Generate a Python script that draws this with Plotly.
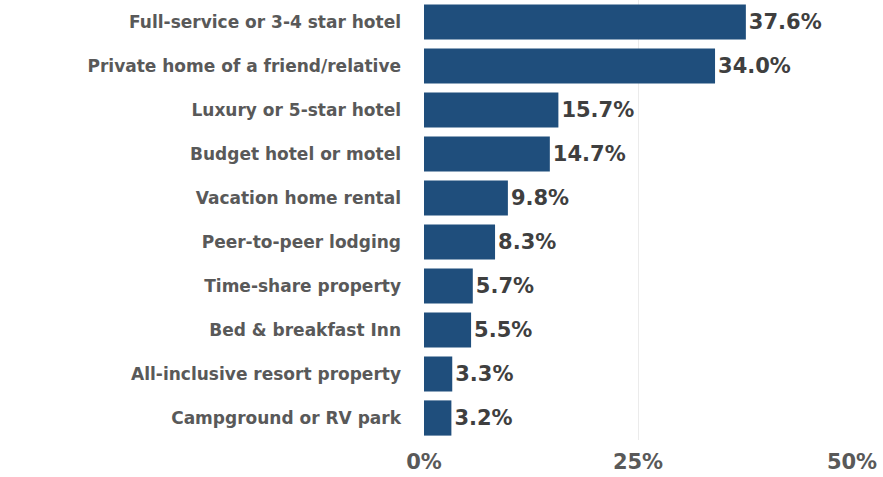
import plotly.graph_objects as go

categories = [
    "Full-service or 3-4 star hotel",
    "Private home of a friend/relative",
    "Luxury or 5-star hotel",
    "Budget hotel or motel",
    "Vacation home rental",
    "Peer-to-peer lodging",
    "Time-share property",
    "Bed & breakfast Inn",
    "All-inclusive resort property",
    "Campground or RV park",
]
shares = [37.6, 34.0, 15.7, 14.7, 9.8, 8.3, 5.7, 5.5, 3.3, 3.2]
x_ticks = [0, 25, 50]
x_tick_labels = ["0%", "25%", "50%"]

fig = go.Figure(
    go.Bar(
        x=shares,
        y=categories,
        orientation="h",
        marker=dict(color="#1f4e7c", line=dict(width=0)),
        width=0.8,
        text=[f"{v:.1f}%" for v in shares],
        textposition="outside",
        cliponaxis=False,
        textfont=dict(family="DejaVu Sans", size=21, color="#3f3f3f", weight="bold"),
    )
)

fig.update_layout(
    width=883,
    height=477,
    margin=dict(l=424, r=31, t=0, b=37),
    paper_bgcolor="white",
    plot_bgcolor="white",
    showlegend=False,
    font=dict(family="DejaVu Sans"),
)

fig.update_xaxes(
    range=[0, 50],
    tickvals=x_ticks,
    ticktext=x_tick_labels,
    showgrid=True,
    gridcolor="#ebebeb",
    gridwidth=1,
    zeroline=False,
    showline=False,
    tickfont=dict(family="DejaVu Sans", size=21, color="#595959", weight="bold"),
    ticklabelstandoff=7,
)

fig.update_yaxes(
    categoryorder="array",
    categoryarray=categories[::-1],
    showgrid=False,
    zeroline=False,
    showline=False,
    ticks="",
    tickfont=dict(family="DejaVu Sans", size=17, color="#595959", weight="bold"),
    ticklabelstandoff=22,
)

fig.write_html("out.html")
